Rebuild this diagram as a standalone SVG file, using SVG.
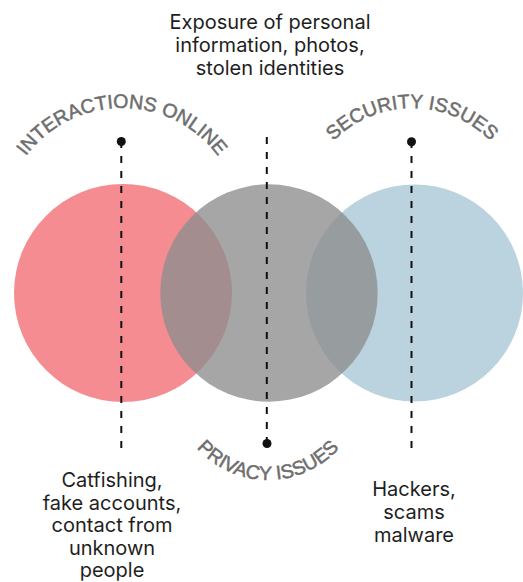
<svg xmlns="http://www.w3.org/2000/svg" width="523" height="582" viewBox="0 0 523 582">
  <style>
    .body { font-family: Inter, "Liberation Sans", sans-serif; font-size: 20px; fill: #1e1e1e; text-anchor: middle; }
    .arc { font-family: "Liberation Sans", Arial, sans-serif; font-size: 19.5px; fill: #6e6e6e; stroke: #6e6e6e; stroke-width: 0.5; text-anchor: middle; }
    .dash { stroke: #111; stroke-width: 2; stroke-dasharray: 7 8; fill: none; }
    .dot { fill: #111; }
  </style>
  <defs>
    <path id="arcInteractions" d="M 2 228 A 120 120 0 0 1 242 228"/>
    <path id="arcSecurity" d="M 302 218 A 110 110 0 0 1 522 218"/>
    <path id="arcPrivacy" d="M 173 385 A 95 95 0 0 0 363 385"/>
  </defs>
  <rect width="523" height="582" fill="#ffffff"/>

  <g id="node-interactions">
    <circle cx="123" cy="293" r="109" fill="#F48C91"/>
  </g>
  <g id="node-security">
    <circle cx="414.5" cy="293" r="108.5" fill="#BAD3DF"/>
  </g>
  <g id="node-privacy">
    <circle cx="269" cy="293" r="108.7" fill="#8D8D8D" fill-opacity="0.78"/>
  </g>

  <g id="connectors">
    <line class="dash" x1="121.3" y1="448" x2="121.3" y2="141.5"/>
    <circle class="dot" cx="121.3" cy="141.5" r="4.5"/>
    <line class="dash" x1="266.8" y1="137" x2="266.8" y2="443.5"/>
    <circle class="dot" cx="267" cy="443.5" r="4.5"/>
    <line class="dash" x1="411.5" y1="448" x2="411.5" y2="141.7"/>
    <circle class="dot" cx="411.5" cy="141.7" r="4.5"/>
  </g>

  <g id="label-interactions">
    <text class="arc"><textPath href="#arcInteractions" startOffset="50%">INTERACTIONS ONLINE</textPath></text>
  </g>
  <g id="label-security">
    <text class="arc"><textPath href="#arcSecurity" startOffset="50%">SECURITY ISSUES</textPath></text>
  </g>
  <g id="label-privacy">
    <text class="arc"><textPath href="#arcPrivacy" startOffset="50%">PRIVACY ISSUES</textPath></text>
  </g>

  <g id="text-exposure">
    <text class="body" x="270" y="29">Exposure of personal</text>
    <text class="body" x="270" y="52">information, photos,</text>
    <text class="body" x="270" y="75">stolen identities</text>
  </g>
  <g id="text-catfishing">
    <text class="body" x="112" y="487">Catfishing,</text>
    <text class="body" x="112" y="509.5">fake accounts,</text>
    <text class="body" x="112" y="532">contact from</text>
    <text class="body" x="112" y="554.5">unknown</text>
    <text class="body" x="112" y="577">people</text>
  </g>
  <g id="text-hackers">
    <text class="body" x="414" y="496">Hackers,</text>
    <text class="body" x="414" y="519">scams</text>
    <text class="body" x="414" y="542">malware</text>
  </g>
</svg>
